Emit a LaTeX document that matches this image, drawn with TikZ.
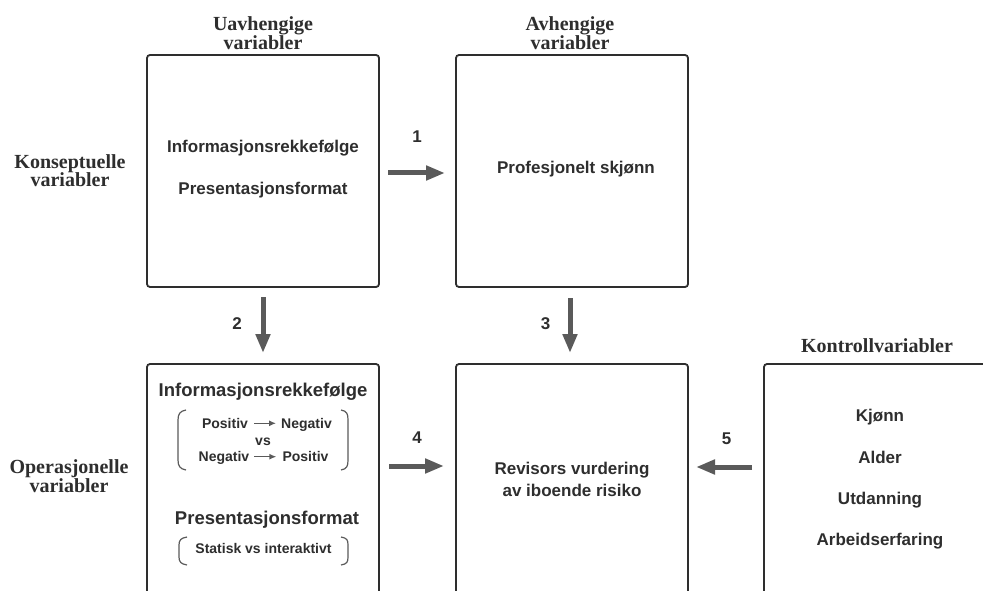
\documentclass[tikz,border=0pt]{standalone}
\usepackage{fontspec}
\setmainfont{Liberation Sans}
\newfontfamily\headfont{Liberation Serif}
\usetikzlibrary{arrows.meta,calc}
\definecolor{ink}{HTML}{2E2E2E}
\definecolor{arr}{HTML}{5A5A5A}
\begin{document}
\begin{tikzpicture}[x=1pt,y=-1pt,
  box/.style={draw=ink,line width=1.8pt,rounded corners=3pt,minimum width=232pt,minimum height=232pt,inner sep=0pt,outer sep=0pt},
  tallbox/.style={box,minimum height=256pt},
  lbl/.style={font=\bfseries\fontsize{17}{20}\selectfont,text=ink,anchor=base,inner sep=0pt},
  biglbl/.style={lbl,font=\bfseries\fontsize{18.5}{22}\selectfont},
  smalllbl/.style={lbl,font=\bfseries\fontsize{14}{16}\selectfont},
  hd/.style={font=\headfont\bfseries\fontsize{20}{18.5}\selectfont,text=ink,align=center,anchor=base,inner sep=0pt},
  bigarr/.style={draw=arr,line width=5pt,-{Triangle[length=19pt,width=14pt]}},
  smallarr/.style={draw=arr,line width=1.3pt,-{Latex[length=7pt,width=6pt]}},
  brk/.style={draw=arr,line width=1.2pt}
]
\useasboundingbox (0,0) rectangle (983,591);
\clip (0,0) rectangle (983,591);
\fill[white] (0,0) rectangle (983,591);

% boxes
\node[box] (A) at (263,171) {};
\node[box] (B) at (572,171) {};
\node[tallbox] (C) at (263,492) {};
\node[tallbox] (D) at (572,492) {};
\node[tallbox] (E) at (880,492) {};

% headings (base = baseline of last line)
\node[hd] (hUav) at (263,49.5) {Uavhengige\\variabler};
\node[hd] (hAv) at (570,49.5) {Avhengige\\variabler};
\node[hd] (hKon) at (70,186.7) {Konseptuelle\\variabler};
\node[hd] (hOp) at (69,492) {Operasjonelle\\variabler};
\node[hd] (hKtr) at (877,352.5) {Kontrollvariabler};

% box A
\node[lbl] (a1) at (263,153) {Informasjonsrekkefølge};
\node[lbl] (a2) at (263,194.5) {Presentasjonsformat};
% box B
\node[lbl] (b1) at (576,173.5) {Profesjonelt skjønn};
% box C
\node[biglbl] (c1) at (263,396) {Informasjonsrekkefølge};
\node[smalllbl] (p1) at (225,428.3) {Positiv};
\node[smalllbl] (n1) at (306.5,428.3) {Negativ};
\node[smalllbl] (vs) at (263,445) {vs};
\node[smalllbl] (n2) at (224,461.7) {Negativ};
\node[smalllbl] (p2) at (305.5,461.7) {Positiv};
\draw[smallarr] ($(p1.base east)+(6,-5)$) -- ($(p1.base east -| n1.base west)+(-5,-5)$);
\draw[smallarr] ($(n2.base east)+(5,-5)$) -- ($(n2.base east -| p2.base west)+(-6,-5)$);
\node[biglbl] (c2) at (267,524.3) {Presentasjonsformat};
\node[smalllbl] (c3) at (263.5,553.3) {Statisk vs interaktivt};
% brackets
\draw[brk] (186,410) .. controls (180,411) and (178,414) .. (178,420) -- (178,460) .. controls (178,466) and (180,469) .. (186,470);
\draw[brk] (341,410) .. controls (347,411) and (348,414) .. (348,420) -- (348,460) .. controls (348,466) and (347,469) .. (341,470);
\draw[brk] (187,537) .. controls (181,538) and (179,540) .. (179,545) -- (179,557) .. controls (179,562) and (181,564) .. (187,565);
\draw[brk] (341,537) .. controls (347,538) and (348,540) .. (348,545) -- (348,557) .. controls (348,562) and (347,564) .. (341,565);

% box D
\node[lbl] (d1) at (572,474) {Revisors vurdering};
\node[lbl] (d2) at (572,496) {av iboende risiko};
% box E
\node[lbl] (e1) at (880,421.7) {Kjønn};
\node[lbl] (e2) at (880,463.3) {Alder};
\node[lbl] (e3) at (880,504) {Utdanning};
\node[lbl] (e4) at (880,545.7) {Arbeidserfaring};

% arrows
\draw[bigarr] ($(A.east)+(9,2)$) -- ($(B.west)+(-11,2)$);
\draw[bigarr] ($(A.south)+(0,10)$) -- ($(C.north)+(0,-11)$);
\draw[bigarr] ($(B.south)+(-2,11)$) -- ($(D.north)+(-2,-11)$);
\draw[bigarr] ($(C.north east)+(10,102)$) -- ($(D.north west)+(-12,102)$);
\draw[bigarr] ($(E.north west)+(-12,103)$) -- ($(D.north east)+(8,103)$);

% numbers
\node[lbl] (n1l) at (417,143) {1};
\node[lbl] (n2l) at (237,329) {2};
\node[lbl] (n3l) at (545.5,329) {3};
\node[lbl] (n4l) at (417,443) {4};
\node[lbl] (n5l) at (726.5,444) {5};
\end{tikzpicture}
\end{document}
